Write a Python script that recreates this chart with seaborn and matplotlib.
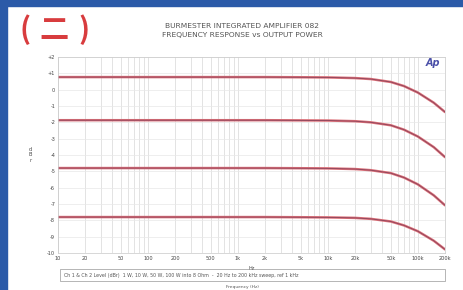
import numpy as np
import pandas as pd
import matplotlib.pyplot as plt
import seaborn as sns
from matplotlib.ticker import FixedLocator, NullFormatter

# data
freq = [10, 20, 50, 100, 200, 500, 1000, 2000, 5000, 10000, 20000,
        30000, 50000, 70000, 100000, 150000, 200000]
trace_1 = [0.77, 0.77, 0.77, 0.77, 0.77, 0.77, 0.77, 0.77, 0.76, 0.75, 0.71,
           0.65, 0.47, 0.22, -0.18, -0.80, -1.37]
trace_2 = [-1.87, -1.87, -1.87, -1.87, -1.87, -1.87, -1.87, -1.87, -1.88, -1.89, -1.93,
           -2.00, -2.18, -2.45, -2.87, -3.52, -4.13]
trace_3 = [-4.80, -4.80, -4.80, -4.80, -4.80, -4.80, -4.80, -4.80, -4.81, -4.82, -4.86,
           -4.93, -5.11, -5.38, -5.80, -6.47, -7.08]
trace_4 = [-7.80, -7.80, -7.80, -7.80, -7.80, -7.80, -7.80, -7.80, -7.81, -7.82, -7.85,
           -7.91, -8.07, -8.31, -8.67, -9.25, -9.78]
trace_names = ["1 W", "10 W", "50 W", "100 W"]

xtick_vals = [10, 20, 50, 100, 200, 500, 1000, 2000, 5000, 10000,
              20000, 50000, 100000, 200000]
xtick_labels = ["10", "20", "50", "100", "200", "500", "1k", "2k", "5k",
                "10k", "20k", "50k", "100k", "200k"]
ytick_vals = [2, 1, 0, -1, -2, -3, -4, -5, -6, -7, -8, -9, -10]
ytick_labels = ["+2", "+1", "0", "-1", "-2", "-3", "-4", "-5", "-6",
                "-7", "-8", "-9", "-10"]

rows = []
for name, vals in zip(trace_names, [trace_1, trace_2, trace_3, trace_4]):
    for f, v in zip(freq, vals):
        rows.append({"freq": f, "level": v, "trace": name})
df = pd.DataFrame(rows)

sns.set_theme(style="white")
plt.rcParams['font.family'] = ['DejaVu Sans']

fig = plt.figure(figsize=(4.63, 2.90), dpi=100)
fig.patch.set_facecolor("white")

# blue frame left and top
fig.add_artist(plt.Rectangle((0, 0), 7/463, 1, transform=fig.transFigure,
                             color="#2b5aa8", zorder=0))
fig.add_artist(plt.Rectangle((0, 1 - 6/290), 1, 6/290, transform=fig.transFigure,
                             color="#2b5aa8", zorder=0))

ax = fig.add_axes([58/463, 1 - 253/290, 387/463, 196/290])

sns.lineplot(data=df, x="freq", y="level", hue="trace",
             palette=["#dc7078"] * 4, linewidth=1.8, legend=False, ax=ax)
sns.lineplot(data=df, x="freq", y="level", hue="trace",
             palette=["#6e3350"] * 4, linewidth=0.6, alpha=0.75,
             legend=False, ax=ax)

ax.set_xscale("log")
ax.set_xlim(10, 200000)
ax.set_ylim(-10, 2)

ax.xaxis.set_major_locator(FixedLocator(xtick_vals))
ax.set_xticklabels(xtick_labels)
minor = [m * 10**e for e in range(1, 6) for m in range(2, 10)]
ax.xaxis.set_minor_locator(FixedLocator(minor))
ax.xaxis.set_minor_formatter(NullFormatter())
ax.set_yticks(ytick_vals)
ax.set_yticklabels(ytick_labels)

ax.grid(True, which="both", axis="x", color="#d8d8d8", linewidth=0.5)
ax.grid(True, which="major", axis="y", color="#e8e8e8", linewidth=0.5)
ax.tick_params(axis="both", labelsize=3.6, colors="#444444", length=0, pad=2)
for s in ax.spines.values():
    s.set_color("#c8c8c8")
    s.set_linewidth(0.5)

ax.set_xlabel("Hz", fontsize=3.6, color="#444444", labelpad=2)
ax.set_ylabel("d\nB\nr", fontsize=3.6, color="#444444", rotation=0,
              labelpad=12, va="center")

# header: "(二)" drawn as three pieces to get the wide spacing
cjk = ["Noto Sans CJK SC", "DejaVu Sans"]
fig.text(20/463, 1 - 30/290, "(", fontsize=21, color="#d83c3e",
         fontweight="bold", family=cjk, va="center", ha="left")
fig.text(54/463, 1 - 30/290, "二", fontsize=21, color="#d83c3e",
         fontweight="bold", family=cjk, va="center", ha="center")
fig.text(90/463, 1 - 30/290, ")", fontsize=21, color="#d83c3e",
         fontweight="bold", family=cjk, va="center", ha="right")
fig.text(242/463, 1 - 26/290, "BURMESTER INTEGRATED AMPLIFIER 082",
         fontsize=5.4, color="#555555", ha="center", va="center")
fig.text(242/463, 1 - 35/290, "FREQUENCY RESPONSE vs OUTPUT POWER",
         fontsize=5.4, color="#555555", ha="center", va="center")
fig.text(433/463, 1 - 63/290, "Ap", fontsize=7, color="#4a4fa8",
         fontweight="bold", fontstyle="italic", ha="center", va="center")

# legend strip below the plot
fig.add_artist(plt.Rectangle((60/463, 1 - 281/290), 385/463, 12/290,
                             transform=fig.transFigure, fill=False,
                             edgecolor="#999999", linewidth=0.5))
fig.text(64/463, 1 - 275.5/290,
         "Ch 1 & Ch 2 Level (dBr)  1 W, 10 W, 50 W, 100 W into 8 Ohm  -  "
         "20 Hz to 200 kHz sweep, ref 1 kHz",
         fontsize=3.4, color="#555555", ha="left", va="center")
fig.text(242/463, 1 - 287/290, "Frequency (Hz)", fontsize=3.2,
         color="#555555", ha="center", va="center")

fig.savefig("out.png", dpi=100)
